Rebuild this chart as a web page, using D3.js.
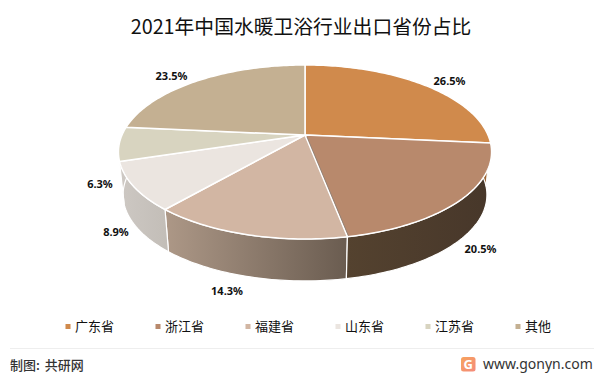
<!DOCTYPE html>
<html>
<head>
<meta charset="utf-8">
<script src="https://cdn.jsdelivr.net/npm/d3@7"></script>
<style>
    html, body { margin: 0; padding: 0; background: #fff; }
    svg { display: block; }
    text { font-family: "Noto Sans CJK SC", "Noto Sans", sans-serif; }
</style>
</head>
<body>
<div id="chart"></div>
<script>
const provinces = ['广东省', '浙江省', '福建省', '山东省', '江苏省', '其他'];
const shares = [26.5, 20.5, 14.3, 8.9, 6.3, 23.5];

const topColors = ['#d08a4c', '#b8896c', '#d2b6a3', '#ebe5e0', '#d8d4c0', '#c4b092'];
// wall gradient, left colour then right colour
const wallColors = [
    ['#9c6534', '#9c6534'], ['#54422f', '#47372a'], ['#ad9887', '#6a5c50'],
    ['#cdc8c3', '#c3beb8'], ['#cdc8c3', '#cdc8c3'], ['#8f7f66', '#8f7f66']
];
// where the percent labels sit
const labelSpots = [[449.5, 81], [480.5, 249], [227, 291], [116, 232], [100, 184], [171.5, 76]];

const width = 598, height = 373;
const cx = 305, cy = 135;
const radiusX = 183, radiusY = 83.7, tilt = 0.195;
const depth = 43, bottomScaleX = 0.975, bottomScaleY = 0.99;

// perspective view of the pie: the front of the disc comes out bigger
function project(angle, radius, isBottom) {
    const X = Math.sin(angle) * radius;
    const Y = -Math.cos(angle) * radius;
    const w = 1 - tilt * Y;
    const sx = isBottom ? bottomScaleX : 1;
    const sy = isBottom ? bottomScaleY : 1;
    return [cx + sx * radiusX * X / w, cy + sy * radiusY * Y / w + (isBottom ? depth : 0)];
}

function arcPoints(a0, a1, isBottom) {
    const n = Math.max(2, Math.ceil((a1 - a0) / 0.02));
    return d3.range(n + 1).map(i => project(a0 + (a1 - a0) * i / n, 1, isBottom));
}

const svg = d3.select('#chart').append('svg')
    .attr('width', width)
    .attr('height', height);
const defs = svg.append('defs');
const line = d3.line();
const closed = pts => line(pts) + 'Z';

const slices = d3.pie().sort(null).value(d => d)(shares);

// side walls, back ones first
const walls = svg.append('g').attr('id', 'walls');
const wallOrder = slices.map((d, i) => i)
    .sort((a, b) => Math.cos(slices[b].startAngle + slices[b].endAngle) - Math.cos(slices[a].startAngle + slices[a].endAngle));

slices.forEach((d, i) => {
    const xs = arcPoints(d.startAngle, d.endAngle, false).map(p => p[0]);
    const g = defs.append('linearGradient')
        .attr('id', 'wall' + i)
        .attr('gradientUnits', 'userSpaceOnUse')
        .attr('x1', d3.min(xs)).attr('x2', d3.max(xs))
        .attr('y1', 0).attr('y2', 0);
    g.append('stop').attr('offset', 0).attr('stop-color', wallColors[i][0]);
    g.append('stop').attr('offset', 1).attr('stop-color', wallColors[i][1]);
});

wallOrder.forEach(i => {
    const d = slices[i];
    const pts = arcPoints(d.startAngle, d.endAngle, false)
        .concat(arcPoints(d.startAngle, d.endAngle, true).reverse());
    walls.append('path')
        .attr('d', closed(pts))
        .attr('fill', `url(#wall${i})`)
        .attr('stroke', '#fff')
        .attr('stroke-width', 1.2)
        .attr('stroke-linejoin', 'round');
});

// top faces
svg.append('g').attr('id', 'tops')
    .selectAll('path')
    .data(slices)
    .join('path')
    .attr('d', d => closed([[cx, cy]].concat(arcPoints(d.startAngle, d.endAngle, false))))
    .attr('fill', (d, i) => topColors[i])
    .attr('stroke', '#fff')
    .attr('stroke-width', 1.5)
    .attr('stroke-linejoin', 'round');

// grey shadow line along the 浙江省 / 福建省 edge
const seam = project(slices[1].endAngle, 1, false);
svg.append('path')
    .attr('d', line([[cx + 2, cy + 2], [seam[0] + 1, seam[1] - 1]]))
    .attr('stroke', '#8c8279')
    .attr('stroke-width', 0.8);

// percent labels
svg.append('g').selectAll('text')
    .data(shares)
    .join('text')
    .attr('x', (d, i) => labelSpots[i][0])
    .attr('y', (d, i) => labelSpots[i][1])
    .attr('dy', '0.36em')
    .attr('text-anchor', 'middle')
    .style('font-family', '"Noto Sans", sans-serif')
    .style('font-size', '11px')
    .style('font-weight', 700)
    .attr('fill', '#111')
    .text(d => d.toFixed(1) + '%');

// title
svg.append('text')
    .attr('x', 301)
    .attr('y', 34)
    .attr('text-anchor', 'middle')
    .style('font-size', '19.8px')
    .attr('fill', '#111')
    .text('2021年中国水暖卫浴行业出口省份占比');

// legend
const legendX = d3.scalePoint().domain(provinces).range([65.5, 515.5]);
const legend = svg.append('g').selectAll('g')
    .data(provinces)
    .join('g')
    .attr('transform', d => `translate(${legendX(d)},326.5)`);
legend.append('rect')
    .attr('y', -2.5)
    .attr('width', 5)
    .attr('height', 5)
    .attr('fill', (d, i) => topColors[i]);
legend.append('text')
    .attr('x', 9.5)
    .attr('dy', '0.36em')
    .style('font-size', '13px')
    .attr('fill', '#111')
    .text(d => d);

// footer
svg.append('line')
    .attr('x1', 10).attr('x2', 594)
    .attr('y1', 348.5).attr('y2', 348.5)
    .attr('stroke', '#eee');

svg.append('text')
    .attr('x', 10)
    .attr('y', 365)
    .attr('dy', '0.36em')
    .style('font-size', '13px')
    .style('font-weight', 500)
    .style('word-spacing', '2px')
    .attr('fill', '#333')
    .text('制图: 共研网');

const logoGrad = defs.append('linearGradient')
    .attr('id', 'logo')
    .attr('x1', 0).attr('x2', 1).attr('y1', 0).attr('y2', 1);
logoGrad.append('stop').attr('offset', 0).attr('stop-color', '#f7a35c');
logoGrad.append('stop').attr('offset', 1).attr('stop-color', '#f48a7c');
svg.append('rect')
    .attr('x', 461).attr('y', 357)
    .attr('width', 14.5).attr('height', 14.5)
    .attr('rx', 2.5)
    .attr('fill', 'url(#logo)');
svg.append('text')
    .attr('x', 468.2)
    .attr('y', 364.2)
    .attr('dy', '0.36em')
    .attr('text-anchor', 'middle')
    .style('font-family', '"Noto Sans", sans-serif')
    .style('font-size', '13px')
    .style('font-weight', 700)
    .attr('fill', '#fff')
    .text('G');

svg.append('text')
    .attr('x', 483)
    .attr('y', 364)
    .attr('dy', '0.36em')
    .style('font-family', '"Noto Sans", sans-serif')
    .style('font-size', '14px')
    .attr('fill', '#333')
    .text('www.gonyn.com');
</script>
</body>
</html>
